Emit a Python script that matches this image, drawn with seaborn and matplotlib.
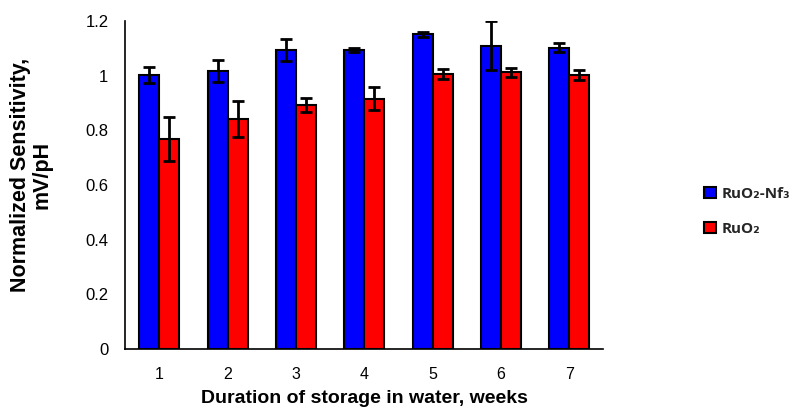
import matplotlib
matplotlib.use("Agg")
import matplotlib.pyplot as plt
import seaborn as sns
import pandas as pd
import numpy as np

weeks = ["1", "2", "3", "4", "5", "6", "7"]
series_names = ["RuO\u2082-Nf\u2083", "RuO\u2082"]
nf_values = [1.003, 1.017, 1.095, 1.093, 1.151, 1.110, 1.102]
nf_errors = [0.029, 0.040, 0.040, 0.008, 0.010, 0.090, 0.017]
ruo_values = [0.769, 0.842, 0.893, 0.916, 1.006, 1.012, 1.003]
ruo_errors = [0.080, 0.065, 0.024, 0.043, 0.019, 0.015, 0.018]
y_ticks = [0, 0.2, 0.4, 0.6, 0.8, 1.0, 1.2]
y_tick_labels = ["0", "0.2", "0.4", "0.6", "0.8", "1", "1.2"]
colors = ["#0000FF", "#FF0000"]

df = pd.DataFrame({
    "week": weeks * 2,
    "series": [series_names[0]] * len(weeks) + [series_names[1]] * len(weeks),
    "value": nf_values + ruo_values,
})

sns.set_style("white")
plt.rcParams["font.family"] = ["Liberation Sans", "DejaVu Sans"]

fig = plt.figure(figsize=(7.97, 4.13), dpi=100)
ax = fig.add_axes([0.157, 0.155, 0.600, 0.794])

sns.barplot(data=df, x="week", y="value", hue="series", palette=colors,
            errorbar=None, width=0.585, edgecolor="black", linewidth=1.5,
            saturation=1, ax=ax)

for container, errs in zip(ax.containers, [nf_errors, ruo_errors]):
    xs = [p.get_x() + p.get_width() / 2 for p in container.patches]
    ys = [p.get_height() for p in container.patches]
    ax.errorbar(xs, ys, yerr=errs, fmt="none", ecolor="black",
                elinewidth=2, capsize=4, capthick=2, zorder=5)

ax.set_ylim(0, 1.2)
ax.set_xlim(-0.5, 6.5)
ax.set_yticks(y_ticks)
ax.set_yticklabels(y_tick_labels)
ax.tick_params(axis="both", length=0, colors="black")
ax.tick_params(axis="y", pad=12, labelsize=12)
ax.tick_params(axis="x", pad=13, labelsize=11.5)
for s in ["top", "right"]:
    ax.spines[s].set_visible(False)
for s in ["left", "bottom"]:
    ax.spines[s].set_color("black")
    ax.spines[s].set_linewidth(1.2)

ax.set_xlabel("Duration of storage in water, weeks", fontsize=14,
              fontweight="bold", labelpad=6, color="black")
ax.set_ylabel("Normalized Sensitivity,\nmV/pH", fontsize=15.5,
              fontweight="bold", color="black", linespacing=1.0)
ax.yaxis.set_label_coords(-0.152, 0.53)

handles, labels = ax.get_legend_handles_labels()
leg = ax.legend(handles, labels, loc="center left", bbox_to_anchor=(1.198, 0.42),
                frameon=False, prop={"family": ["Open Sans", "DejaVu Sans"],
                                     "weight": "bold", "size": 11},
                handlelength=0.8, handleheight=0.8, labelspacing=1.35,
                handletextpad=0.35, borderaxespad=0)

fig.savefig("out.png", dpi=100)
